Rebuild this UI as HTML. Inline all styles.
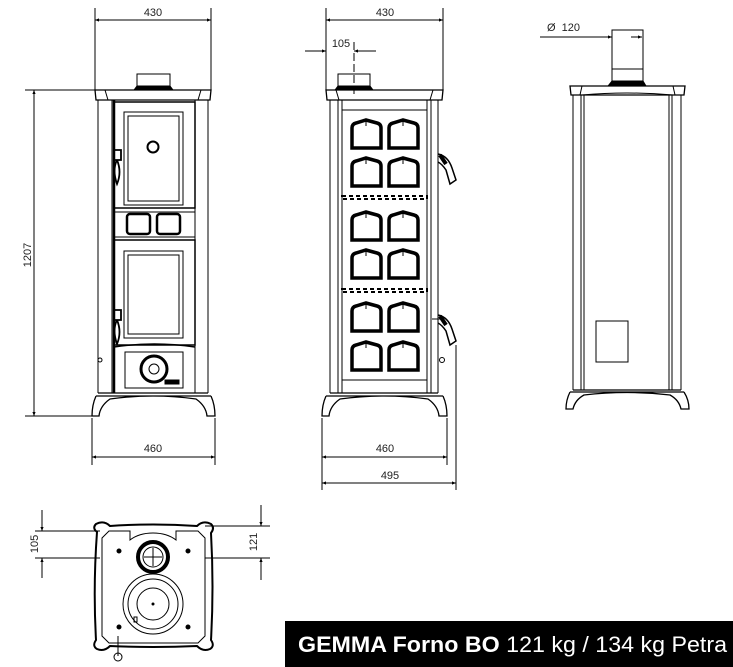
<!DOCTYPE html>
<html><head><meta charset="utf-8"><style>
html,body{margin:0;padding:0;background:#fff;width:733px;height:667px;overflow:hidden}
svg{display:block}
text{font-family:"Liberation Sans",Arial,sans-serif;fill:#222}
</style></head><body>
<svg width="733" height="667" viewBox="0 0 733 667" xmlns="http://www.w3.org/2000/svg">
<defs>
<marker id="a" viewBox="0 0 10 10" refX="10" refY="5" markerWidth="6" markerHeight="4" orient="auto-start-reverse"><path d="M0,1 L10,5 L0,9z" fill="#000"/></marker>
<g id="win"><path d="M0,28 V8 Q0,4 4,3 L14,0 L25,3 Q29,4 29,8 V28 Z" fill="none" stroke="#000" stroke-width="3.5"/><line x1="14" y1="1" x2="14" y2="6" stroke="#000"/></g>
</defs>
<g fill="none" stroke="#000" stroke-width="1">
<!-- FRONT VIEW dims -->
<line x1="95" y1="8" x2="95" y2="90"/><line x1="211" y1="8" x2="211" y2="90"/>
<line x1="95" y1="20" x2="211" y2="20" marker-start="url(#a)" marker-end="url(#a)"/>
<line x1="25" y1="90" x2="96" y2="90"/><line x1="25" y1="416" x2="92" y2="416"/>
<line x1="34" y1="90" x2="34" y2="416" marker-start="url(#a)" marker-end="url(#a)"/>
<line x1="92" y1="418" x2="92" y2="465"/><line x1="215" y1="418" x2="215" y2="465"/>
<line x1="92" y1="457" x2="215" y2="457" marker-start="url(#a)" marker-end="url(#a)"/>
<!-- front stove -->
<rect x="137" y="74" width="33" height="12"/>
<path d="M134,90 L137,86 H170 L173,90Z" fill="#000"/>
<path d="M95,90 H211 L210,100 H96 Z" stroke-width="1.3"/>
<line x1="105" y1="90" x2="108" y2="100"/><line x1="201" y1="90" x2="198" y2="100"/>
<line x1="98" y1="100" x2="98" y2="393"/><line x1="112" y1="100" x2="112" y2="393"/>
<line x1="195" y1="100" x2="195" y2="393"/><line x1="208" y1="100" x2="208" y2="393"/>
<line x1="114" y1="100" x2="114" y2="393" stroke-width="2.5"/>
<rect x="114" y="102" width="81" height="106" stroke-width="1.5"/>
<rect x="124" y="112" width="59" height="93"/><rect x="128" y="116" width="51" height="85"/>
<circle cx="153" cy="147" r="5.5" stroke-width="2"/>
<rect x="114" y="212" width="81" height="25"/>
<rect x="127" y="214" width="23" height="20" rx="3" stroke-width="2.5"/>
<rect x="157" y="214" width="23" height="20" rx="3" stroke-width="2.5"/>
<rect x="114" y="240" width="81" height="105" stroke-width="1.5"/>
<rect x="124" y="251" width="59" height="87"/><rect x="128" y="255" width="51" height="79"/>
<path d="M114,347 Q154,341 195,347" stroke-width="1.5"/>
<rect x="125" y="352" width="58" height="36"/>
<circle cx="154" cy="369" r="13" stroke-width="3"/><circle cx="154" cy="369" r="5"/>
<rect x="165" y="380" width="14" height="4" fill="#000"/>
<path d="M114,150 h7 v10 h-7 M117,160 q-5,10 0,24 q5,-12 0,-24" stroke-width="1.8"/>
<path d="M114,310 h7 v10 h-7 M117,320 q-5,10 0,24 q5,-12 0,-24" stroke-width="1.8"/>
<circle cx="100" cy="360" r="2"/>
<path d="M98,393 H208 M96,396 H211 M96,396 Q92,405 92,416 H99 Q100,406 110,399 Q153,393 196,399 Q206,406 207,416 H215 Q215,405 211,396" stroke-width="1.3"/>
<!-- MIDDLE VIEW dims -->
<line x1="326" y1="8" x2="326" y2="90"/><line x1="443" y1="8" x2="443" y2="90"/>
<line x1="326" y1="20" x2="443" y2="20" marker-start="url(#a)" marker-end="url(#a)"/>
<line x1="305" y1="51" x2="326" y2="51" marker-end="url(#a)"/><line x1="376" y1="51" x2="354" y2="51" marker-end="url(#a)"/>
<line x1="354" y1="42" x2="354" y2="95" stroke-dasharray="8,3"/>
<line x1="322" y1="418" x2="322" y2="490"/><line x1="447" y1="418" x2="447" y2="465"/><line x1="456" y1="345" x2="456" y2="490"/>
<line x1="322" y1="457" x2="447" y2="457" marker-start="url(#a)" marker-end="url(#a)"/>
<line x1="322" y1="483" x2="456" y2="483" marker-start="url(#a)" marker-end="url(#a)"/>
<!-- middle stove -->
<rect x="338" y="74" width="32" height="12"/>
<path d="M335,90 L338,86 H370 L373,90Z" fill="#000"/>
<path d="M326,90 H443 L442,100 H327 Z" stroke-width="1.3"/>
<line x1="336" y1="90" x2="339" y2="100"/><line x1="433" y1="90" x2="430" y2="100"/>
<line x1="330" y1="100" x2="330" y2="393"/><line x1="338" y1="100" x2="338" y2="393"/><line x1="342" y1="100" x2="342" y2="393"/>
<line x1="427" y1="100" x2="427" y2="393"/><line x1="431" y1="100" x2="431" y2="393"/><line x1="438" y1="100" x2="438" y2="393"/>
<rect x="342" y="110" width="85" height="270"/>
<rect x="342" y="196" width="85" height="3" stroke-dasharray="4,3" stroke-width="2"/>
<rect x="342" y="289" width="85" height="3" stroke-dasharray="4,3" stroke-width="2"/>
<use href="#win" x="352" y="120"/><use href="#win" x="389" y="120"/>
<use href="#win" x="352" y="158"/><use href="#win" x="389" y="158"/>
<use href="#win" x="352" y="212"/><use href="#win" x="389" y="212"/>
<use href="#win" x="352" y="250"/><use href="#win" x="389" y="250"/>
<use href="#win" x="352" y="303"/><use href="#win" x="389" y="303"/>
<use href="#win" x="352" y="342"/><use href="#win" x="389" y="342"/>
<path d="M438,154 Q448,156 452,168 L456,180 L450,184 L446,170 Q442,164 438,162" stroke-width="1.5"/>
<path d="M440,155 L446,164" stroke-width="4"/>
<path d="M438,315 Q448,317 452,329 L456,341 L450,345 L446,331 Q442,325 438,323" stroke-width="1.5"/>
<path d="M440,316 L446,325" stroke-width="4"/>
<line x1="432" y1="319" x2="442" y2="319"/>
<circle cx="442" cy="360" r="2.5"/>
<path d="M330,393 H438 M326,396 H443 M326,396 Q322,405 322,416 H329 Q330,406 340,399 Q384,393 428,399 Q438,406 439,416 H447 Q447,405 443,396" stroke-width="1.3"/>
<!-- SIDE VIEW -->
<line x1="540" y1="37" x2="612" y2="37" marker-end="url(#a)"/>
<line x1="643" y1="37" x2="632" y2="37" marker-end="url(#a)" transform="rotate(180 637 37)"/>
<rect x="612" y="30" width="31" height="53"/><line x1="612" y1="69" x2="643" y2="69"/>
<path d="M608,86 L612,81 H643 L646,86Z" fill="#000"/>
<path d="M570,86 H685 L684,95 H571 Z" stroke-width="1.3"/>
<line x1="582" y1="86" x2="580" y2="95"/><line x1="673" y1="86" x2="675" y2="95"/>
<path d="M582,95 Q627,91 673,95"/>
<line x1="573" y1="95" x2="573" y2="390"/><line x1="581" y1="95" x2="581" y2="390"/><line x1="584" y1="95" x2="584" y2="390"/>
<line x1="669" y1="95" x2="669" y2="390"/><line x1="672" y1="95" x2="672" y2="390"/><line x1="681" y1="95" x2="681" y2="390"/>
<rect x="596" y="321" width="32" height="41"/>
<path d="M573,390 H681 M570,392 H684 M570,392 Q566,400 566,409 H573 Q575,400 584,395 Q627,390 670,395 Q679,400 681,409 H689 Q689,400 684,392" stroke-width="1.3"/>
<!-- TOP VIEW -->
<line x1="35" y1="531" x2="100" y2="531"/><line x1="35" y1="558" x2="100" y2="558"/>
<line x1="42" y1="510" x2="42" y2="531" marker-end="url(#a)"/><line x1="42" y1="578" x2="42" y2="558" marker-end="url(#a)"/>
<line x1="205" y1="526" x2="270" y2="526"/><line x1="205" y1="558" x2="270" y2="558"/>
<line x1="261" y1="505" x2="261" y2="526" marker-end="url(#a)"/><line x1="261" y1="580" x2="261" y2="558" marker-end="url(#a)"/>
<path d="M97,532 Q92,528 96,524 Q104,520 110,526 Q153,523 197,526 Q203,520 211,524 Q215,528 211,533 Q214,587 211,640 Q215,646 210,649 Q203,652 197,646 Q153,648 110,646 Q104,652 97,649 Q92,646 96,640 Q93,587 97,532Z" stroke-width="2"/>
<path d="M102,538 L109,531 H130 L130,540 Q139,533 153,533 Q167,533 176,540 L176,531 H198 L205,538 V636 L198,643 H109 L102,636 Z"/>
<circle cx="153" cy="557" r="15" stroke-width="4"/>
<circle cx="153" cy="557" r="10"/>
<circle cx="153" cy="604" r="30"/><circle cx="153" cy="604" r="25"/><circle cx="153" cy="604" r="16"/>
<line x1="153" y1="548" x2="153" y2="566"/><line x1="144" y1="557" x2="162" y2="557"/>
<circle cx="119" cy="551" r="2" fill="#000"/><circle cx="188" cy="551" r="2" fill="#000"/>
<circle cx="119" cy="627" r="2" fill="#000"/><circle cx="188" cy="627" r="2" fill="#000"/>
<circle cx="153" cy="604" r="1" fill="#000"/>
<rect x="134" y="617" width="3" height="5"/>
<line x1="118" y1="636" x2="118" y2="656"/><circle cx="118" cy="657" r="4"/>
</g>
<!-- texts -->
<text x="153" y="16" font-size="11" text-anchor="middle">430</text>
<text x="385" y="16" font-size="11" text-anchor="middle">430</text>
<text x="341" y="47" font-size="11" text-anchor="middle">105</text>
<text x="153" y="452" font-size="11" text-anchor="middle">460</text>
<text x="385" y="452" font-size="11" text-anchor="middle">460</text>
<text x="390" y="479" font-size="11" text-anchor="middle">495</text>
<text x="547" y="31" font-size="11">Ø&#160;&#160;120</text>
<text transform="translate(31,255) rotate(-90)" font-size="11" text-anchor="middle">1207</text>
<text transform="translate(38,544) rotate(-90)" font-size="11" text-anchor="middle">105</text>
<text transform="translate(257,542) rotate(-90)" font-size="11" text-anchor="middle">121</text>
<rect x="285" y="621" width="448" height="46" fill="#000"/>
<text x="298" y="652" font-size="22" textLength="429" lengthAdjust="spacingAndGlyphs" style="fill:#fff"><tspan font-weight="bold">GEMMA Forno BO</tspan> 121 kg / 134 kg Petra</text>
</svg>
</body></html>
